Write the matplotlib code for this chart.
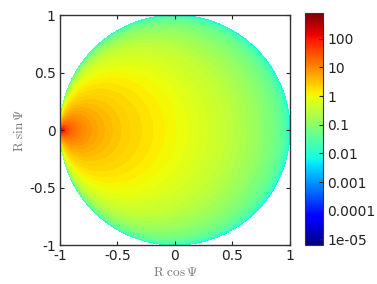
import numpy as np
import matplotlib
matplotlib.use("Agg")
import matplotlib.pyplot as plt
from matplotlib.colors import LogNorm
import matplotlib.cm as cm

# values (y = 0), x from the hot spot at (-1,0) to the right edge
profile_x = [-1.0, -0.98, -0.95, -0.9, -0.8, -0.7, -0.6, -0.5, -0.4, -0.3, -0.2, -0.1,
             0.0, 0.1, 0.2, 0.3, 0.4, 0.5, 0.6, 0.7, 0.8, 0.9, 0.95, 0.98, 1.0]
profile_val = [300, 99, 39, 19, 9, 5.7, 4, 3, 2.3, 1.85, 1.5, 1.22,
               1.0, 0.8, 0.64, 0.5, 0.38, 0.28, 0.2, 0.14, 0.085, 0.045, 0.028, 0.016, 0.006]
cbar_ticks = [1e-5, 1e-4, 1e-3, 1e-2, 1e-1, 1, 10, 100]
cbar_labels = ["1e-05", "0.0001", "0.001", "0.01", "0.1", "1", "10", "100"]
vmin, vmax = 10 ** -5.2, 10 ** 2.9

plt.rcParams['mathtext.fontset'] = 'cm'
plt.rcParams['font.family'] = 'DejaVu Sans'

fig = plt.figure(figsize=(3.77, 2.84), dpi=100)
ax = fig.add_axes([0.159, 0.137, 0.610, 0.810])
cax = fig.add_axes([0.809, 0.137, 0.048, 0.817])

# polar grid over the unit disk
r = np.linspace(0, 1, 300)
t = np.linspace(0, 2 * np.pi, 721)
R, T = np.meshgrid(r, t)
X = R * np.cos(T)
Y = R * np.sin(T)

# level curves are circles tangent at (-1,0); map each point to its circle's x-intercept
xi = (X ** 2 + Y ** 2 + X) / np.maximum(X + 1, 1e-6)
xi = np.clip(xi, -1, 1)
Z = 10 ** np.interp(xi, profile_x, np.log10(profile_val))

norm = LogNorm(vmin=vmin, vmax=vmax)
levels = np.logspace(np.log10(vmin), np.log10(vmax), 90)
cs = ax.contourf(X, Y, Z, levels=levels, cmap='jet', norm=norm, extend='both',
                 antialiased=False)

ax.set_xlim(-1, 1)
ax.set_ylim(-1, 1)
ax.set_xticks([-1, -0.5, 0, 0.5, 1])
ax.set_yticks([-1, -0.5, 0, 0.5, 1])
ax.set_xticklabels(["-1", "-0.5", "0", "0.5", "1"])
ax.set_yticklabels(["-1", "-0.5", "0", "0.5", "1"])
ax.tick_params(direction='in', top=True, right=True, labelsize=10,
               colors='#222222', length=3, width=0.8, pad=3)
for s in ax.spines.values():
    s.set_color('#333333')
    s.set_linewidth(1.0)
ax.set_xlabel(r'$\mathrm{R}\ \cos\Psi$', fontsize=9.5, color='#777777', labelpad=2)
ax.set_ylabel(r'$\mathrm{R}\ \sin\Psi$', fontsize=9.5, color='#777777', labelpad=2)

sm = cm.ScalarMappable(norm=norm, cmap='jet')
cb = fig.colorbar(sm, cax=cax)
cb.set_ticks(cbar_ticks)
cb.set_ticklabels(cbar_labels)
cb.minorticks_off()
cax.tick_params(direction='in', labelsize=10, colors='#222222', length=3, width=0.8, pad=3)
cb.outline.set_edgecolor('#333333')
cb.outline.set_linewidth(0.8)

fig.savefig("out.png", dpi=100)
